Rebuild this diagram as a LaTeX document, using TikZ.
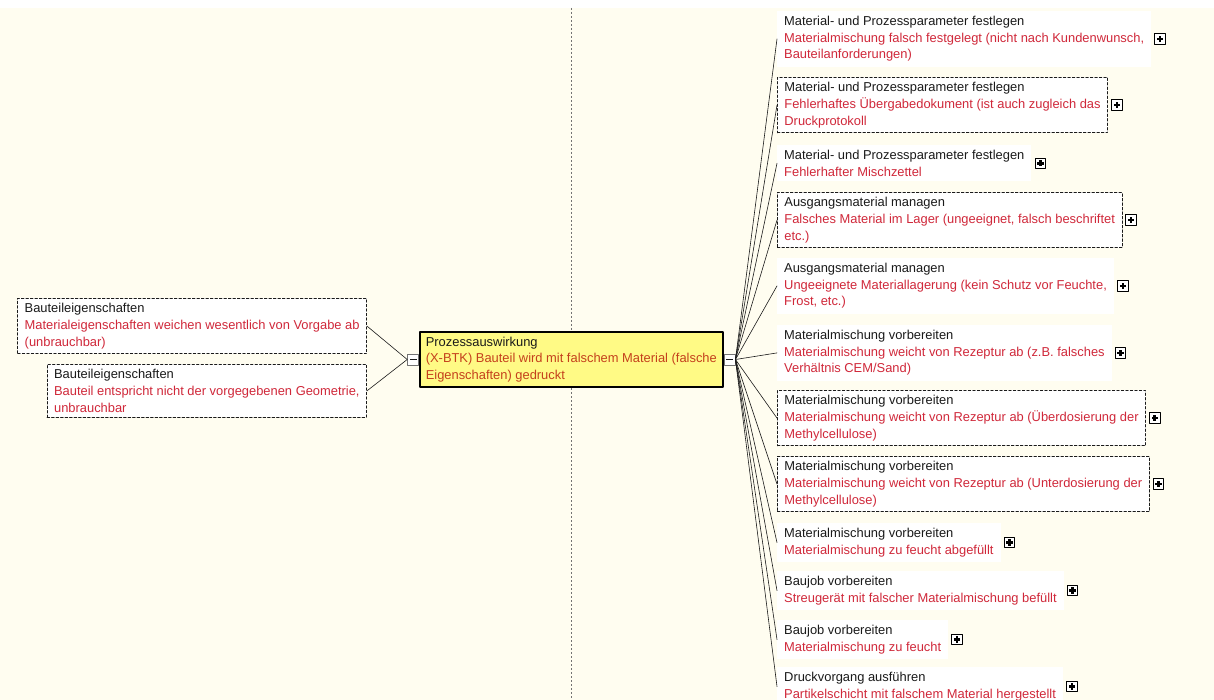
\documentclass[tikz,border=0pt]{standalone}
\usepackage{fontspec}
\setmainfont{Liberation Sans}
\usepackage{tikz}
\usetikzlibrary{positioning}
\definecolor{fmbg}{HTML}{FFFDF0}
\definecolor{fmred}{HTML}{D0283A}
\definecolor{fmorange}{HTML}{C4401C}
\definecolor{fmink}{HTML}{1A1A1A}
\definecolor{fmyellow}{HTML}{FFFA85}
\definecolor{fmgrid}{gray}{0.45}
\newcommand{\fmsize}{\fontsize{12.9}{16.7}\selectfont}
\newcommand{\fmhead}[1]{\textcolor{fmink}{#1}}
\tikzset{
  fmbox/.style   = {rectangle, fill=white, text=fmred, align=left, font=\fmsize,
                    inner xsep=7pt, inner ysep=5pt, anchor=north west},
  fmdash/.style  = {fmbox, draw=fmink, line width=0.8pt, dash pattern=on 2.5pt off 2pt},
  fmmain/.style  = {fmbox, fill=fmyellow, draw=black, line width=1.6pt, text=fmorange,
                    inner xsep=6pt},
  fmlink/.style  = {draw=fmink, line width=0.6pt},
  fmtoggle/.style= {rectangle, fill=white, draw=fmgrid, line width=0.8pt,
                    minimum size=11pt, inner sep=0pt},
  fmminus/.style = {fmtoggle, path picture={\fill[fmink] (path picture bounding box.center)
                    +(-3.5pt,-0.7pt) rectangle +(3.5pt,0.7pt);}},
  fmplus/.style  = {fmtoggle, draw=black, line width=1pt, minimum size=10.5pt, path picture={
                    \fill[black] (path picture bounding box.center) +(-3.2pt,-1.3pt) rectangle +(3.2pt,1.3pt);
                    \fill[black] (path picture bounding box.center) +(-1.3pt,-3.2pt) rectangle +(1.3pt,3.2pt);}},
}

\begin{document}
\begin{tikzpicture}[x=1pt, y=-1pt, line cap=round, line join=round]
  \useasboundingbox (0,0) rectangle (1214,700);
  \fill[fmbg] (0,0) rectangle (1214,700);
  \fill[white] (0,0) rectangle (1214,8);
  \draw[fmgrid, line width=1pt, line cap=butt, dash pattern=on 2pt off 2pt] (571,8) -- (571,700);

  \node[fmmain] (eff) at (419,331) {\fmhead{Prozessauswirkung}\\(X-BTK) Bauteil wird mit falschem Material (falsche\\Eigenschaften) gedruckt};
  \node[fmminus, left=0pt of eff] (ml) {};
  \node[fmminus, right=0pt of eff] (mr) {};

  \node[fmdash, anchor=north east] (l1) at (367,298) {\fmhead{Bauteileigenschaften}\\Materialeigenschaften weichen wesentlich von Vorgabe ab\\(unbrauchbar)};
  \node[fmdash, anchor=north east] (l2) at (367,364) {\fmhead{Bauteileigenschaften}\\Bauteil entspricht nicht der vorgegebenen Geometrie,\\unbrauchbar};
  \draw[fmlink] (ml.west) -- (l1.east);
  \draw[fmlink] (ml.west) -- (l2.east);

  \node[fmbox]  (r1) at (777,11) {\fmhead{Material- und Prozessparameter festlegen}\\Materialmischung falsch festgelegt (nicht nach Kundenwunsch,\\Bauteilanforderungen)};
  \node[fmdash] (r2) at (777,77) {\fmhead{Material- und Prozessparameter festlegen}\\Fehlerhaftes Übergabedokument (ist auch zugleich das\\Druckprotokoll};
  \node[fmbox]  (r3) at (777,145) {\fmhead{Material- und Prozessparameter festlegen}\\Fehlerhafter Mischzettel};
  \node[fmdash] (r4) at (777,192) {\fmhead{Ausgangsmaterial managen}\\Falsches Material im Lager (ungeeignet, falsch beschriftet\\etc.)};
  \node[fmbox]  (r5) at (777,258) {\fmhead{Ausgangsmaterial managen}\\Ungeeignete Materiallagerung (kein Schutz vor Feuchte,\\Frost, etc.)};
  \node[fmbox]  (r6) at (777,325) {\fmhead{Materialmischung vorbereiten}\\Materialmischung weicht von Rezeptur ab (z.B. falsches\\Verhältnis CEM/Sand)};
  \node[fmdash] (r7) at (777,390) {\fmhead{Materialmischung vorbereiten}\\Materialmischung weicht von Rezeptur ab (Überdosierung der\\Methylcellulose)};
  \node[fmdash] (r8) at (777,456) {\fmhead{Materialmischung vorbereiten}\\Materialmischung weicht von Rezeptur ab (Unterdosierung der\\Methylcellulose)};
  \node[fmbox]  (r9) at (777,523) {\fmhead{Materialmischung vorbereiten}\\Materialmischung zu feucht abgefüllt};
  \node[fmbox]  (r10) at (777,571) {\fmhead{Baujob vorbereiten}\\Streugerät mit falscher Materialmischung befüllt};
  \node[fmbox]  (r11) at (777,620) {\fmhead{Baujob vorbereiten}\\Materialmischung zu feucht};
  \node[fmbox]  (r12) at (777,667) {\fmhead{Druckvorgang ausführen}\\Partikelschicht mit falschem Material hergestellt};

  \foreach \i in {1,...,12}{
    \draw[fmlink] (mr.east) -- (r\i.west);
    \node[fmplus, right=3pt of r\i.east] (p\i) {};
  }
\end{tikzpicture}
\end{document}
